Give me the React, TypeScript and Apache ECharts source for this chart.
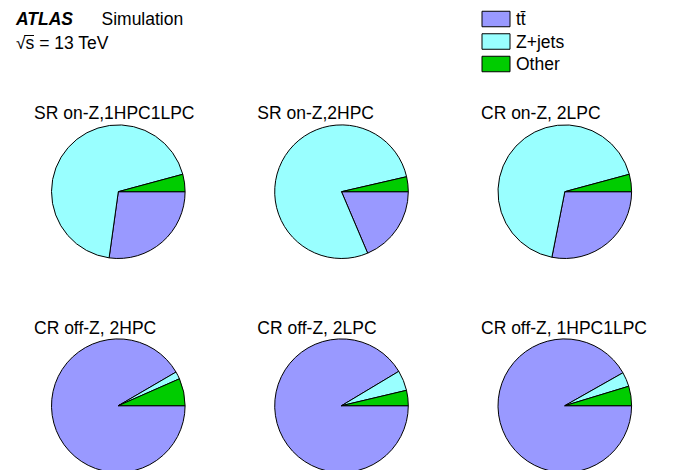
import React, { useEffect, useRef } from "react";
import * as echarts from "echarts";

const categories = ["tt\u0304", "Z+jets", "Other"];
const regions = [
  "SR on-Z,1HPC1LPC",
  "SR on-Z,2HPC",
  "CR on-Z, 2LPC",
  "CR off-Z, 2HPC",
  "CR off-Z, 2LPC",
  "CR off-Z, 1HPC1LPC",
];
const ttbar = [27.2, 18.6, 28.1, 91.6, 91.4, 91.8];
const zjets = [68.6, 77.8, 67.7, 1.8, 4.9, 3.5];
const other = [4.2, 3.6, 4.2, 6.6, 3.7, 4.7];
const colors = ["#9999ff", "#99ffff", "#00cc00"];

const FONT = "Liberation Sans, Arial, Helvetica, sans-serif";
const FS = 17.5;
const colX = [118.3, 341.5, 564.8];
const rowY = [191.7, 405.7];
const titleX = [34, 257.3, 481];
const titleY = [103.5, 319];
const R = 66.8;

export default function App() {
  const ref = useRef<HTMLDivElement>(null);
  useEffect(() => {
    if (!ref.current) return;
    const chart = echarts.init(ref.current, null, { renderer: "svg" });
    const series = regions.map((name, i) => ({
      type: "pie",
      name,
      center: [colX[i % 3], rowY[Math.floor(i / 3)]],
      radius: [0, R],
      startAngle: 0,
      clockwise: true,
      label: { show: false },
      labelLine: { show: false },
      emphasis: { disabled: true },
      itemStyle: { borderColor: "#000", borderWidth: 1 },
      data: categories.map((c, k) => ({
        name: c,
        value: [ttbar, zjets, other][k][i],
        itemStyle: { color: colors[k] },
      })),
    }));
    const titles = regions.map((t, i) => ({
      text: t,
      left: titleX[i % 3],
      top: titleY[Math.floor(i / 3)],
      padding: 0,
      textStyle: { fontFamily: FONT, fontSize: FS, fontWeight: "normal", color: "#000" },
    }));
    chart.setOption({
      animation: false,
      backgroundColor: "#fff",
      color: colors,
      title: titles,
      legend: {
        data: categories,
        orient: "vertical",
        left: 481.5,
        top: 10,
        padding: 0,
        icon: "rect",
        itemWidth: 28,
        itemHeight: 15.5,
        itemGap: 4.5,
        selectedMode: false,
        itemStyle: { borderColor: "#000", borderWidth: 1 },
        textStyle: {
          fontFamily: FONT,
          fontSize: FS,
          color: "#000",
          padding: [0, 0, 0, 1],
        },
      },
      graphic: [
        {
          type: "text",
          left: 16,
          top: 9.5,
          style: { text: "ATLAS", font: `italic bold ${FS}px ${FONT}`, fill: "#000" },
        },
        {
          type: "text",
          left: 101.5,
          top: 9.5,
          style: { text: "Simulation", font: `${FS}px ${FONT}`, fill: "#000" },
        },
        {
          type: "text",
          left: 16,
          top: 34,
          style: { text: "\u221As = 13 TeV", font: `${FS}px ${FONT}`, fill: "#000" },
        },
        {
          type: "line",
          shape: { x1: 24.5, y1: 35.5, x2: 34, y2: 35.5 },
          style: { stroke: "#000", lineWidth: 1 },
        },
      ],
      series,
    });
    return () => chart.dispose();
  }, []);
  return (
    <div
      ref={ref}
      style={{ position: "fixed", left: 0, top: 0, width: 673, height: 470, background: "#fff" }}
    />
  );
}
